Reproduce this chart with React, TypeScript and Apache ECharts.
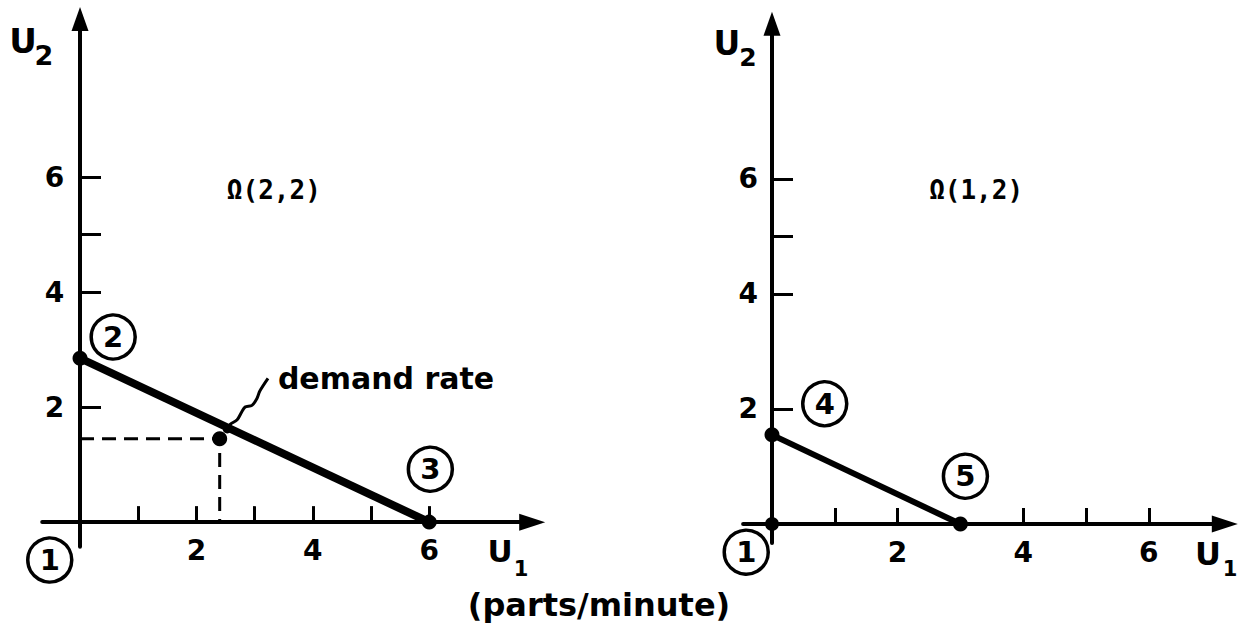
import React, { useEffect, useRef } from "react";
import * as echarts from "echarts";

const FONT = "'DejaVu Sans', sans-serif";
const MONO = "'DejaVu Sans Mono', monospace";

// Left panel Ω(2,2)
const leftFrontier = [[0, 2.85], [6, 0]]; // state 2 -> state 3
const demandPoint = [[2.4, 1.45]];
const demandGuide = [[0, 1.45], [2.4, 1.45], [2.4, 0]];
const demandPointer = [
  [3.23, 2.5], [3.09, 2.28], [3.04, 2.15], [2.955, 2.03], [2.835, 2.0],
  [2.78, 1.92], [2.7, 1.78], [2.58, 1.7], [2.53, 1.62],
];
// Right panel Ω(1,2)
const rightFrontier = [[0, 1.55], [3, 0]]; // state 4 -> state 5
const rightOrigin = [[0, 0]];

const xTicksLeft = [1, 2, 3, 4, 5, 6];
const xTicksRight = [1, 2, 4, 5, 6];
const yTicks = [2, 4, 5, 6];
const tickLabels = [2, 4, 6];

const leftStates = [
  { name: "1", value: [-0.52, -0.66] },
  { name: "2", value: [0.57, 3.22] },
  { name: "3", value: [6.02, 0.92] },
];
const rightStates = [
  { name: "1", value: [-0.41, -0.49] },
  { name: "4", value: [0.84, 2.09] },
  { name: "5", value: [3.08, 0.83] },
];
const leftRegion = { name: "Ω(2,2)", value: [3.33, 5.77] };
const rightRegion = { name: "Ω(1,2)", value: [3.25, 5.8] };
const demandText = { name: "demand rate", value: [3.4, 2.5] };

function makeXAxis(gridIndex: number, min: number, max: number, ticks: number[], margin: number) {
  return {
    type: "value",
    gridIndex,
    min,
    max,
    axisLine: {
      show: true,
      onZero: true,
      symbol: ["none", "triangle"],
      symbolSize: [17, 26],
      lineStyle: { color: "#000", width: 4 },
    },
    axisTick: { show: true, inside: true, length: 16, customValues: ticks, lineStyle: { color: "#000", width: 3 } },
    axisLabel: {
      show: true,
      customValues: tickLabels,
      margin,
      color: "#000",
      fontFamily: FONT,
      fontSize: 28,
      fontWeight: "bold",
    },
    splitLine: { show: false },
  };
}

function makeYAxis(gridIndex: number, min: number, max: number, margin: number) {
  return {
    type: "value",
    gridIndex,
    min,
    max,
    axisLine: {
      show: true,
      onZero: true,
      symbol: ["none", "triangle"],
      symbolSize: [17, 24],
      lineStyle: { color: "#000", width: 4 },
    },
    axisTick: { show: true, inside: true, length: 21, customValues: yTicks, lineStyle: { color: "#000", width: 3 } },
    axisLabel: {
      show: true,
      customValues: tickLabels,
      margin,
      color: "#000",
      fontFamily: FONT,
      fontSize: 28,
      fontWeight: "bold",
    },
    splitLine: { show: false },
  };
}

function circleSeries(idx: number, data: any[]) {
  return {
    type: "scatter",
    xAxisIndex: idx,
    yAxisIndex: idx,
    data,
    clip: false,
    silent: true,
    symbol: "circle",
    symbolSize: 44,
    itemStyle: { color: "rgba(0,0,0,0)", borderColor: "#000", borderWidth: 3.5, opacity: 1 },
    label: {
      show: true,
      position: "inside",
      formatter: (p: any) => p.name,
      color: "#000",
      opacity: 1,
      fontFamily: FONT,
      fontSize: 29,
      fontWeight: "bold",
    },
    z: 5,
  };
}

function textSeries(idx: number, item: any, font: string, size: number, align: string) {
  return {
    type: "scatter",
    xAxisIndex: idx,
    yAxisIndex: idx,
    data: [item],
    clip: false,
    silent: true,
    symbolSize: 1,
    itemStyle: { color: "rgba(0,0,0,0)", opacity: 1 },
    label: {
      show: true,
      position: "inside",
      align,
      verticalAlign: "middle",
      formatter: (p: any) => p.name,
      color: "#000",
      opacity: 1,
      fontFamily: font,
      fontSize: size,
      fontWeight: "bold",
    },
  };
}

export default function App() {
  const ref = useRef<HTMLDivElement>(null);
  useEffect(() => {
    if (!ref.current) return;
    const chart = echarts.init(ref.current, null, { renderer: "svg" });
    const txt = (x: number, y: number, text: string, size: number, font = FONT) => ({
      type: "text",
      x,
      y,
      style: { text, fill: "#000", font: `bold ${size}px ${font}`, align: "center", verticalAlign: "middle" },
    });
    chart.setOption({
      animation: false,
      backgroundColor: "#fff",
      grid: [
        { left: 42.2, top: 19, width: 490, height: 527.85 },
        { left: 743.1, top: 23.75, width: 481.7, height: 519.2 },
      ],
      xAxis: [makeXAxis(0, -0.65, 7.77, xTicksLeft, -10), makeXAxis(1, -0.46, 7.21, xTicksRight, -4)],
      yAxis: [makeYAxis(0, -0.43, 8.75, -22), makeYAxis(1, -0.33, 8.7, -15)],
      series: [
        {
          type: "line",
          xAxisIndex: 0,
          yAxisIndex: 0,
          data: demandGuide,
          symbol: "none",
          lineStyle: { color: "#000", width: 3, type: [14, 8] },
          silent: true,
        },
        {
          type: "line",
          xAxisIndex: 0,
          yAxisIndex: 0,
          data: leftFrontier,
          symbol: "circle",
          symbolSize: 15,
          itemStyle: { color: "#000", opacity: 1 },
          lineStyle: { color: "#000", width: 8 },
          clip: false,
          silent: true,
          z: 4,
        },
        {
          type: "scatter",
          xAxisIndex: 0,
          yAxisIndex: 0,
          data: demandPoint,
          symbolSize: 15,
          itemStyle: { color: "#000", opacity: 1 },
          silent: true,
          z: 4,
        },
        {
          type: "line",
          xAxisIndex: 0,
          yAxisIndex: 0,
          data: demandPointer.map((p, i) =>
            i === demandPointer.length - 1 ? { value: p, symbol: "circle", symbolSize: 9 } : { value: p, symbolSize: 0 }
          ),
          smooth: 0.3,
          symbol: "circle",
          showSymbol: true,
          itemStyle: { color: "#000", opacity: 1 },
          lineStyle: { color: "#000", width: 3 },
          silent: true,
          z: 4,
        },
        circleSeries(0, leftStates),
        textSeries(0, leftRegion, MONO, 26, "center"),
        textSeries(0, demandText, FONT, 30, "left"),
        {
          type: "line",
          xAxisIndex: 1,
          yAxisIndex: 1,
          data: rightFrontier,
          symbol: "circle",
          symbolSize: 15,
          itemStyle: { color: "#000", opacity: 1 },
          lineStyle: { color: "#000", width: 6 },
          clip: false,
          silent: true,
          z: 4,
        },
        {
          type: "scatter",
          xAxisIndex: 1,
          yAxisIndex: 1,
          data: rightOrigin,
          symbolSize: 14,
          itemStyle: { color: "#000", opacity: 1 },
          silent: true,
          z: 4,
        },
        circleSeries(1, rightStates),
        textSeries(1, rightRegion, MONO, 26, "center"),
      ],
      graphic: [
        txt(23, 41, "U", 34),
        txt(44, 55, "2", 27),
        txt(727, 43, "U", 33),
        txt(748, 57, "2", 25),
        txt(500, 551, "U", 31),
        txt(521, 569, "1", 21),
        txt(1208, 554, "U", 32),
        txt(1230, 569, "1", 21),
        txt(599, 605, "(parts/minute)", 32),
      ],
    });
    return () => chart.dispose();
  }, []);
  return (
    <div
      ref={ref}
      style={{ position: "absolute", left: 0, top: 0, width: 1245, height: 629, background: "#fff" }}
    />
  );
}
